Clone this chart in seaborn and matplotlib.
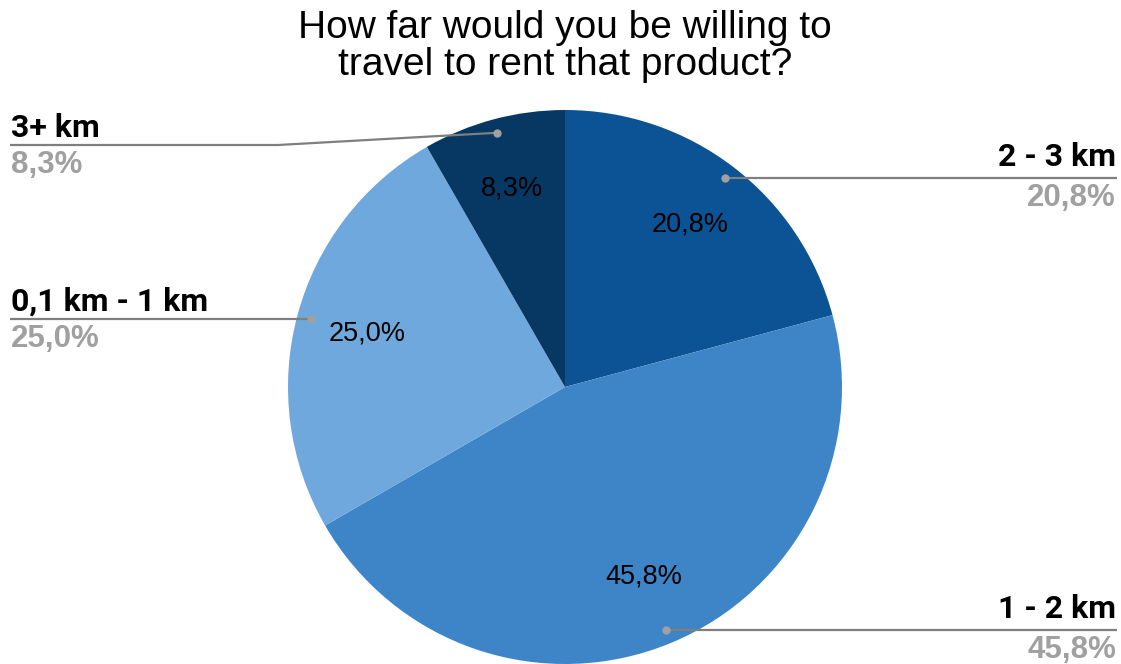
import matplotlib
matplotlib.use("Agg")
import matplotlib.pyplot as plt
import numpy as np
import seaborn as sns

# Survey answers: distance people would travel to rent a product
categories = ["2 - 3 km", "1 - 2 km", "0,1 km - 1 km", "3+ km"]
shares = [20.8, 45.8, 25.0, 8.3]
colors = ["#0b5394", "#3d85c6", "#6fa8dc", "#073763"]
title = "How far would you be willing to\ntravel to rent that product?"

sns.set_theme(style="white")
plt.rcParams["font.family"] = ["Liberation Sans", "DejaVu Sans"]

W, H = 1121, 664
fig = plt.figure(figsize=(W / 100, H / 100), dpi=100)
ax = fig.add_axes([0, 0, 1, 1])

cx, cy, R = 565, H - 387, 277
wedges, _ = ax.pie(
    shares, colors=colors, startangle=90, counterclock=False,
    center=(cx, cy), radius=R, frame=True,
    wedgeprops=dict(linewidth=0),
)
ax.set_xlim(0, W)
ax.set_ylim(0, H)
ax.set_aspect("equal")
ax.axis("off")


def fmt(v):
    return f"{v:.1f}%".replace(".", ",")


# leader line heights (y from top) for labels that bend; others run straight
leader_y = {"3+ km": 145}
grey_line = "#7f7f7f"
grey_text = "#a0a0a0"
label_font = ["Roboto", "DejaVu Sans"]

for w, name, v in zip(wedges, categories, shares):
    mid = np.deg2rad((w.theta1 + w.theta2) / 2)
    # percentage inside the slice
    ax.text(cx + 0.74 * R * np.cos(mid), cy + 0.74 * R * np.sin(mid), fmt(v),
            ha="center", va="center", fontsize=19.5, color="black")
    # leader dot on the slice
    dx, dy = cx + 0.95 * R * np.cos(mid), cy + 0.95 * R * np.sin(mid)
    ax.plot(dx, dy, "o", ms=6, color="#a0a0a0", mew=0, zorder=5)
    ly = H - leader_y[name] if name in leader_y else dy
    right = np.cos(mid) > 0
    if right:
        xs, ha, tx, gap = [dx, 1117], "right", 1116, 12
    else:
        bend = 278 if name in leader_y else dx
        xs, ha, tx, gap = [dx, bend, 10], "left", 11, 8
    ys = [dy] + [ly] * (len(xs) - 1)
    ax.plot(xs, ys, color=grey_line, lw=1.6, zorder=4, solid_capstyle="butt")
    ax.text(tx, ly + gap, name, ha=ha, va="baseline", fontsize=23,
            fontweight="bold", color="black", family=label_font)
    ax.text(tx, ly - 28, fmt(v), ha=ha, va="baseline", fontsize=22.5,
            fontweight="bold", color=grey_text)

# two-line title, one baseline per line
for line, base in zip(title.split("\n"), [38, 75]):
    ax.text(565, H - base, line, ha="center", va="baseline", fontsize=28,
            color="black")

fig.savefig("out.png", dpi=100, facecolor="white")
